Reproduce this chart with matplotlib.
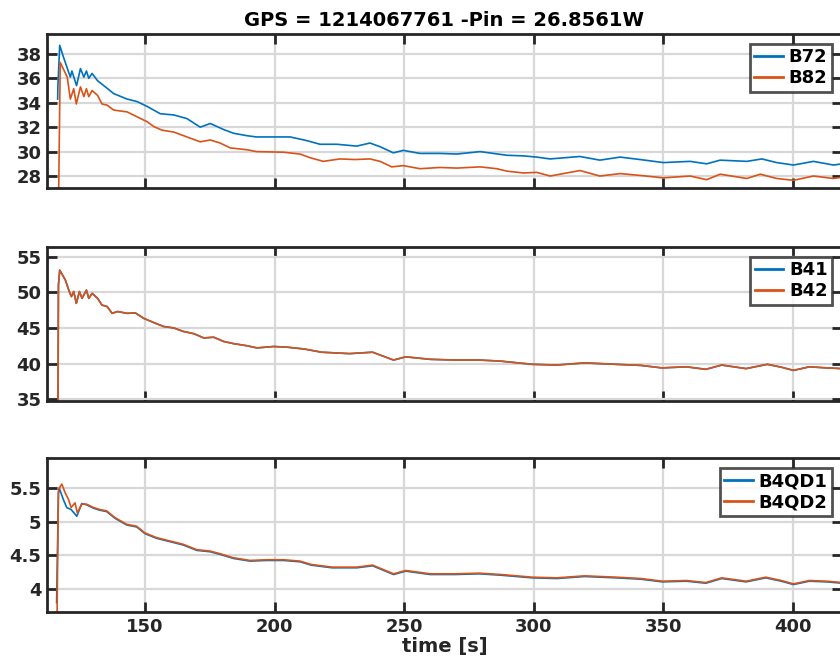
import matplotlib.pyplot as plt

# time axis [s] and channel values
t_b72 = [116.3, 116.4, 117.1, 118.6, 121.2, 121.8, 123.6, 125.1, 126.4, 127.4, 128.3, 129.6,
         131.7, 134.7, 137.9, 143.1, 146.9, 150.8, 155.9, 161.1, 166.2, 171.3, 175.2, 180.4,
         184.2, 189.4, 193.0, 199.5, 206.0, 212.4, 217.5, 224.0, 231.7, 236.8, 240.7, 245.8,
         249.7, 256.1, 263.8, 270.3, 279.3, 284.4, 289.6, 296.0, 301.1, 306.3, 317.8, 325.5,
         333.3, 341.0, 350.0, 360.3, 366.7, 371.9, 382.2, 388.0, 393.7, 400.2, 407.9, 415.6, 419.0]
b72 = [34.3, 35.4, 38.7, 37.7, 36.1, 36.6, 35.4, 36.8, 36.1, 36.6, 36.0, 36.4,
       35.8, 35.3, 34.75, 34.3, 34.1, 33.7, 33.1, 33.0, 32.7, 32.0, 32.3, 31.8,
       31.5, 31.3, 31.2, 31.2, 31.2, 30.9, 30.6, 30.6, 30.45, 30.7, 30.4, 29.9,
       30.1, 29.85, 29.85, 29.8, 30.0, 29.85, 29.7, 29.65, 29.55, 29.4, 29.6, 29.3,
       29.55, 29.35, 29.1, 29.2, 29.0, 29.3, 29.2, 29.4, 29.1, 28.9, 29.2, 28.9, 29.0]

t_b82 = [116.3, 117.3, 120.0, 121.2, 122.5, 123.5, 125.1, 126.4, 127.4, 128.3, 129.6, 131.7,
         133.4, 135.4, 137.9, 143.1, 146.9, 150.8, 153.4, 156.6, 161.1, 166.2, 171.3, 175.2,
         179.0, 182.9, 189.4, 193.0, 203.4, 209.8, 213.7, 218.8, 225.2, 231.0, 236.8, 240.7,
         245.2, 249.7, 256.1, 263.8, 270.3, 279.3, 285.7, 289.6, 296.0, 301.1, 306.3, 317.8,
         325.5, 333.3, 341.0, 350.0, 360.3, 366.7, 371.9, 382.2, 387.4, 393.7, 400.2, 407.9,
         415.6, 419.0]
b82 = [20.0, 37.3, 36.1, 34.3, 35.15, 33.9, 35.3, 34.5, 35.15, 34.5, 35.0, 34.6,
       33.9, 33.8, 33.4, 33.25, 32.85, 32.45, 32.05, 31.75, 31.6, 31.2, 30.8, 30.95,
       30.7, 30.3, 30.15, 30.0, 29.95, 29.8, 29.5, 29.2, 29.4, 29.35, 29.4, 29.2,
       28.75, 28.85, 28.6, 28.7, 28.65, 28.75, 28.6, 28.4, 28.25, 28.3, 28.0, 28.45,
       28.0, 28.2, 28.05, 27.85, 28.0, 27.7, 28.15, 27.8, 28.15, 27.8, 27.65, 28.0,
       27.8, 27.9]

t_b42 = [116.3, 116.6, 117.1, 119.3, 120.6, 121.6, 122.5, 123.5, 124.7, 125.7, 127.4, 128.3,
         129.6, 131.7, 133.4, 135.4, 137.3, 139.4, 143.1, 146.3, 149.5, 153.4, 157.2, 161.1,
         164.9, 168.8, 172.7, 176.5, 180.4, 184.2, 189.4, 193.2, 199.7, 204.9, 211.4, 218.1,
         228.9, 237.8, 245.9, 250.6, 260.1, 269.6, 279.0, 287.2, 299.4, 308.8, 319.6, 331.8,
         341.3, 349.4, 358.9, 366.4, 372.5, 381.9, 390.1, 395.5, 400.2, 406.3, 413.0, 419.0]
b42 = [20.0, 51.0, 53.1, 51.7, 50.3, 49.4, 50.1, 48.45, 50.1, 49.15, 50.3, 49.15,
       49.85, 49.15, 48.2, 48.0, 47.05, 47.3, 47.05, 47.1, 46.35, 45.75, 45.2, 45.0,
       44.5, 44.2, 43.6, 43.7, 43.1, 42.8, 42.5, 42.2, 42.4, 42.3, 42.05, 41.6,
       41.4, 41.6, 40.5, 40.95, 40.6, 40.5, 40.5, 40.35, 39.9, 39.8, 40.1, 39.9,
       39.75, 39.4, 39.55, 39.2, 39.8, 39.3, 39.9, 39.5, 39.05, 39.55, 39.4, 39.3]
t_b41 = list(t_b42)
b41 = list(b42)

t_qd1 = [115.9, 116.6, 116.9, 118.5, 119.8, 121.5, 123.7, 125.6, 127.5, 130.1, 132.6, 135.2,
         138.4, 142.9, 146.8, 150.0, 154.5, 159.7, 164.8, 170.0, 175.1, 179.0, 184.1, 190.5,
         197.0, 203.4, 209.8, 214.1, 222.2, 231.7, 237.8, 245.9, 250.6, 260.1, 269.6, 279.0,
         287.2, 299.4, 308.8, 319.6, 331.8, 341.3, 349.6, 358.9, 366.4, 372.5, 381.9, 389.5,
         395.5, 400.2, 406.3, 413.0, 419.0]
qd1 = [3.79, 5.42, 5.5, 5.33, 5.21, 5.18, 5.08, 5.27, 5.25, 5.2, 5.17, 5.15,
       5.05, 4.95, 4.92, 4.82, 4.75, 4.7, 4.65, 4.57, 4.55, 4.51, 4.45, 4.41,
       4.42, 4.42, 4.4, 4.35, 4.31, 4.31, 4.34, 4.21, 4.26, 4.21, 4.21, 4.22,
       4.2, 4.16, 4.15, 4.18, 4.16, 4.14, 4.1, 4.11, 4.08, 4.15, 4.1, 4.16,
       4.11, 4.06, 4.11, 4.1, 4.08]

t_qd2 = [115.9, 116.6, 117.9, 119.2, 120.5, 121.5, 123.0, 123.9, 125.6, 127.5, 130.1, 132.6,
         135.2, 138.4, 142.9, 146.8, 150.0, 154.5, 159.7, 164.8, 170.0, 175.1, 179.0, 184.1,
         190.5, 197.0, 203.4, 209.8, 214.1, 222.2, 231.7, 237.8, 245.9, 250.6, 260.1, 269.6,
         279.0, 287.2, 299.4, 308.8, 319.6, 331.8, 341.3, 349.6, 358.9, 366.4, 372.5, 381.9,
         389.5, 395.5, 400.2, 406.3, 413.0, 419.0]
qd2 = [3.0, 5.48, 5.56, 5.43, 5.33, 5.21, 5.28, 5.13, 5.26, 5.26, 5.21, 5.18,
       5.16, 5.06, 4.96, 4.93, 4.83, 4.76, 4.71, 4.66, 4.58, 4.56, 4.52, 4.46,
       4.42, 4.43, 4.43, 4.41, 4.36, 4.32, 4.32, 4.35, 4.22, 4.27, 4.22, 4.22,
       4.23, 4.21, 4.17, 4.16, 4.19, 4.17, 4.15, 4.11, 4.12, 4.09, 4.16, 4.11,
       4.17, 4.12, 4.07, 4.12, 4.11, 4.09]

xticks = [150, 200, 250, 300, 350, 400]
blue = '#0072BD'
orange = '#D95319'
dark = '#262626'

plt.rcParams['font.family'] = 'DejaVu Sans'
plt.rcParams['font.weight'] = 'bold'

fig = plt.figure(figsize=(8.4, 6.65), dpi=100)

panels = [
    (0.7173, (27.02, 39.63), [28, 30, 32, 34, 36, 38], ['28', '30', '32', '34', '36', '38'],
     [(t_b72, b72, 'B72', blue), (t_b82, b82, 'B82', orange)]),
    (0.3970, (34.76, 56.35), [35, 40, 45, 50, 55], ['35', '40', '45', '50', '55'],
     [(t_b41, b41, 'B41', blue), (t_b42, b42, 'B42', orange)]),
    (0.0797, (3.65, 5.95), [4, 4.5, 5, 5.5], ['4', '4.5', '5', '5.5'],
     [(t_qd1, qd1, 'B4QD1', blue), (t_qd2, qd2, 'B4QD2', orange)]),
]

axes = []
for bottom, ylim, yt, ytl, series in panels:
    ax = fig.add_axes([0.05595, bottom, 0.9464, 0.2316])
    for tt, vv, name, col in series:
        ax.plot(tt, vv, color=col, lw=1.2, label=name)
    ax.set_xlim(112.19, 418.9)
    ax.set_ylim(*ylim)
    ax.set_yticks(yt)
    ax.set_yticklabels(ytl)
    ax.set_xticks(xticks)
    ax.grid(True, color='#d8d8d8', lw=1.6)
    ax.set_axisbelow(True)
    for s in ax.spines.values():
        s.set_color(dark)
        s.set_linewidth(2)
    ax.tick_params(direction='in', length=7, width=2, color=dark, labelcolor=dark,
                   labelsize=13, top=True, right=True, pad=4)
    leg = ax.legend(loc='upper right', fontsize=13, frameon=True, fancybox=False,
                    handlelength=1.6, handletextpad=0.3, borderpad=0.25,
                    labelspacing=0.15, borderaxespad=0.55)
    leg.get_frame().set_edgecolor(dark)
    leg.get_frame().set_linewidth(2)
    for line in leg.get_lines():
        line.set_linewidth(2)
    for txt in leg.get_texts():
        txt.set_color('black')
    axes.append(ax)

axes[0].set_xticklabels([])
axes[1].set_xticklabels([])
axes[0].set_title('GPS = 1214067761 -Pin = 26.8561W', fontsize=14, fontweight='bold',
                  color='black', pad=6)
axes[2].set_xlabel('time [s]', fontsize=14, fontweight='bold', color=dark, labelpad=1)

fig.savefig('out.png', dpi=100)
